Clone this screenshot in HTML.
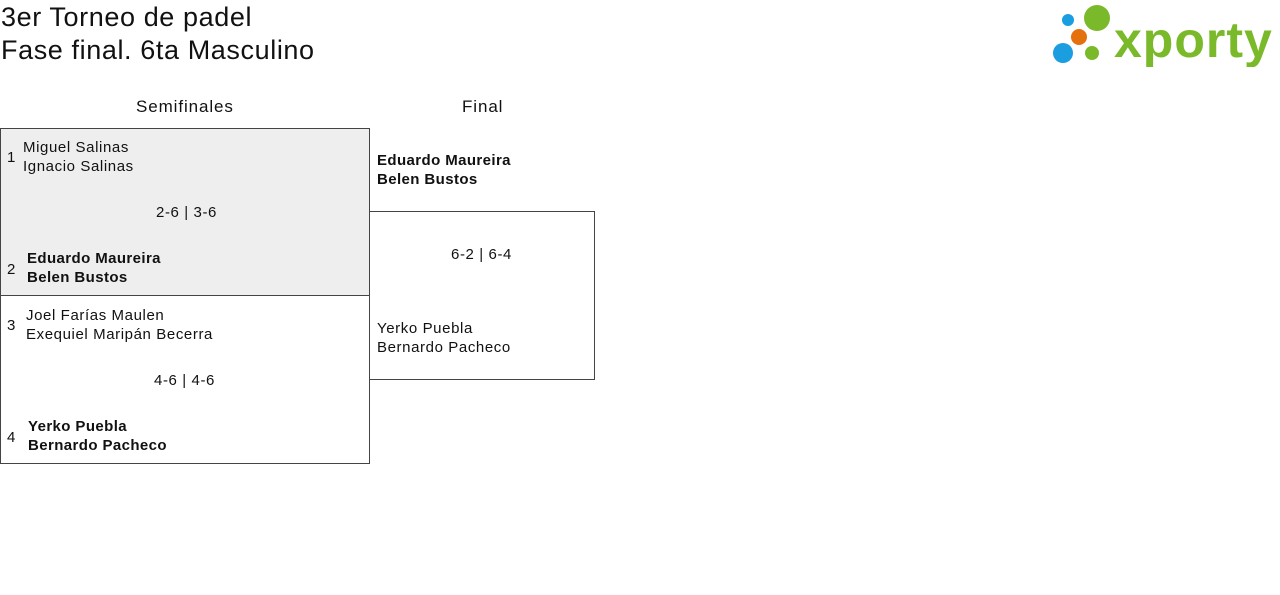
<!DOCTYPE html>
<html><head><style>
body{margin:0;width:1280px;height:595px;background:#fff;font-family:"Liberation Sans",sans-serif;color:#111;position:relative;overflow:hidden}
.a{position:absolute;white-space:nowrap}
.t{font-size:27px;line-height:33px;letter-spacing:0.6px}
.h{font-size:17px;letter-spacing:0.9px}
.n{font-size:15px;line-height:19px;letter-spacing:0.6px}
.b{font-weight:bold;letter-spacing:0.4px}
.box{position:absolute;border:1px solid #444;box-sizing:border-box}
</style></head><body>
<div class="a t" style="left:1px;top:1px">3er Torneo de padel<br>Fase final. 6ta Masculino</div>
<svg class="a" style="left:1050px;top:3px" width="228" height="64">
<circle cx="18" cy="17" r="6" fill="#1a9ee0"/>
<circle cx="47" cy="15" r="13" fill="#7ab929"/>
<circle cx="29" cy="34" r="8" fill="#e4700e"/>
<circle cx="13" cy="50" r="10" fill="#1a9ee0"/>
<circle cx="42" cy="50" r="7" fill="#7ab929"/>
<text x="64" y="54" font-family="Liberation Sans,sans-serif" font-weight="bold" font-size="50" fill="#7ab929" letter-spacing="1">xporty</text>
</svg>
<div class="a h" style="left:136px;top:97px">Semifinales</div>
<div class="a h" style="left:462px;top:97px">Final</div>
<div class="box" style="left:0;top:128px;width:370px;height:168px;background:#eee"></div>
<div class="box" style="left:0;top:295px;width:370px;height:169px"></div>
<div class="box" style="left:369px;top:211px;width:226px;height:169px"></div>
<div class="a n" style="left:7px;top:148px">1</div>
<div class="a n" style="left:23px;top:138px">Miguel Salinas<br>Ignacio Salinas</div>
<div class="a n" style="left:156px;top:203px">2-6 | 3-6</div>
<div class="a n" style="left:7px;top:260px">2</div>
<div class="a n b" style="left:27px;top:249px">Eduardo Maureira<br>Belen Bustos</div>
<div class="a n" style="left:7px;top:316px">3</div>
<div class="a n" style="left:26px;top:306px">Joel Farías Maulen<br>Exequiel Maripán Becerra</div>
<div class="a n" style="left:154px;top:371px">4-6 | 4-6</div>
<div class="a n" style="left:7px;top:428px">4</div>
<div class="a n b" style="left:28px;top:417px">Yerko Puebla<br>Bernardo Pacheco</div>
<div class="a n b" style="left:377px;top:151px">Eduardo Maureira<br>Belen Bustos</div>
<div class="a n" style="left:451px;top:245px">6-2 | 6-4</div>
<div class="a n" style="left:377px;top:319px">Yerko Puebla<br>Bernardo Pacheco</div>
</body></html>
